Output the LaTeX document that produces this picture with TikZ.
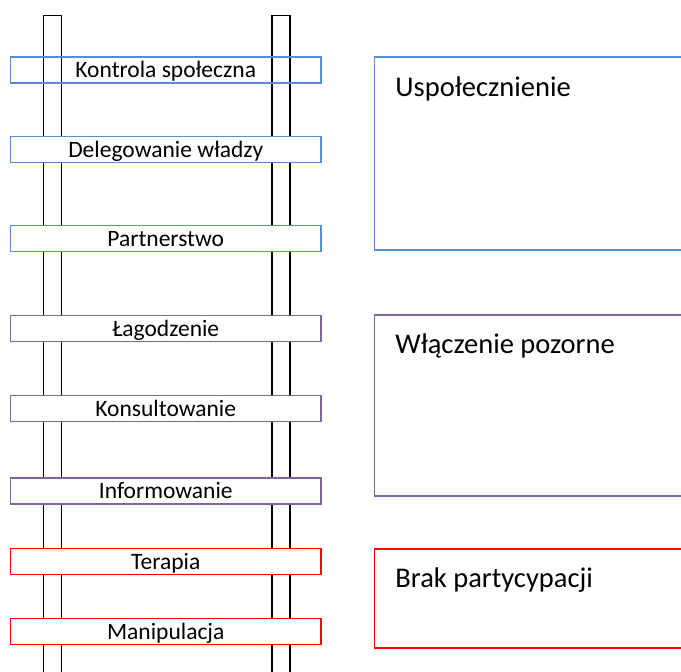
\documentclass[tikz,border=0pt]{standalone}
\usepackage{fontspec}
\setmainfont{Carlito}
\usetikzlibrary{positioning}
\definecolor{uspblue}{HTML}{558ED5}
\definecolor{pozpurple}{HTML}{8064A2}
\definecolor{brakred}{HTML}{FF0000}

\begin{document}
\begin{tikzpicture}[x=1pt, y=-1pt,
  rung/.style={draw, line width=1.5pt, fill=white, minimum width=310.5pt, minimum height=26pt, inner sep=0pt, text height=15pt, text depth=0pt, font=\fontsize{23.5}{26}\selectfont},
  group/.style={draw, line width=1.5pt, anchor=north west, minimum width=340pt, inner sep=0pt},
  grouplabel/.style={anchor=base west, inner sep=0pt, font=\fontsize{28.5}{32}\selectfont}]
\useasboundingbox (0,0) rectangle (681,672);
\clip (0,0) rectangle (681,672);

\draw[line width=1.5pt] (43.3,690) -- (43.3,15.5) -- (61.7,15.5) -- (61.7,690);
\draw[line width=1.5pt] (272,690) -- (272,15.5) -- (290,15.5) -- (290,690);

\node[rung, draw=uspblue, fill=none] (kontrola) at (165.75,70.2) {Kontrola społeczna};
\node[rung, draw=uspblue] (delegowanie) at (165.75,149.5) {Delegowanie władzy};
\node[rung, draw=uspblue] (partnerstwo) at (165.75,238.6) {Partnerstwo};
\node[rung, draw=pozpurple] (lagodzenie) at (165.75,328.5) {Łagodzenie};
\node[rung, draw=pozpurple] (konsultowanie) at (165.75,408.5) {Konsultowanie};
\node[rung, draw=pozpurple] (informowanie) at (165.75,491) {Informowanie};
\node[rung, draw=brakred] (terapia) at (165.75,561.5) {Terapia};
\node[rung, draw=brakred] (manipulacja) at (165.75,631.5) {Manipulacja};

\node[group, draw=uspblue, minimum height=193pt] (uspol) at (373.7,56) {};
\node[group, draw=pozpurple, minimum height=181pt] (pozor) at (373.7,314) {};
\node[group, draw=brakred, minimum height=99pt] (brak) at (373.7,548) {};

\node[grouplabel] (uspoltxt) at ([xshift=21.5pt, yshift=-40.5pt]uspol.north west) {Uspołecznienie};
\node[grouplabel] (pozortxt) at ([xshift=21.5pt, yshift=-39.5pt]pozor.north west) {Włączenie pozorne};
\node[grouplabel] (braktxt) at ([xshift=21.5pt, yshift=-39.5pt]brak.north west) {Brak partycypacji};
\end{tikzpicture}
\end{document}
